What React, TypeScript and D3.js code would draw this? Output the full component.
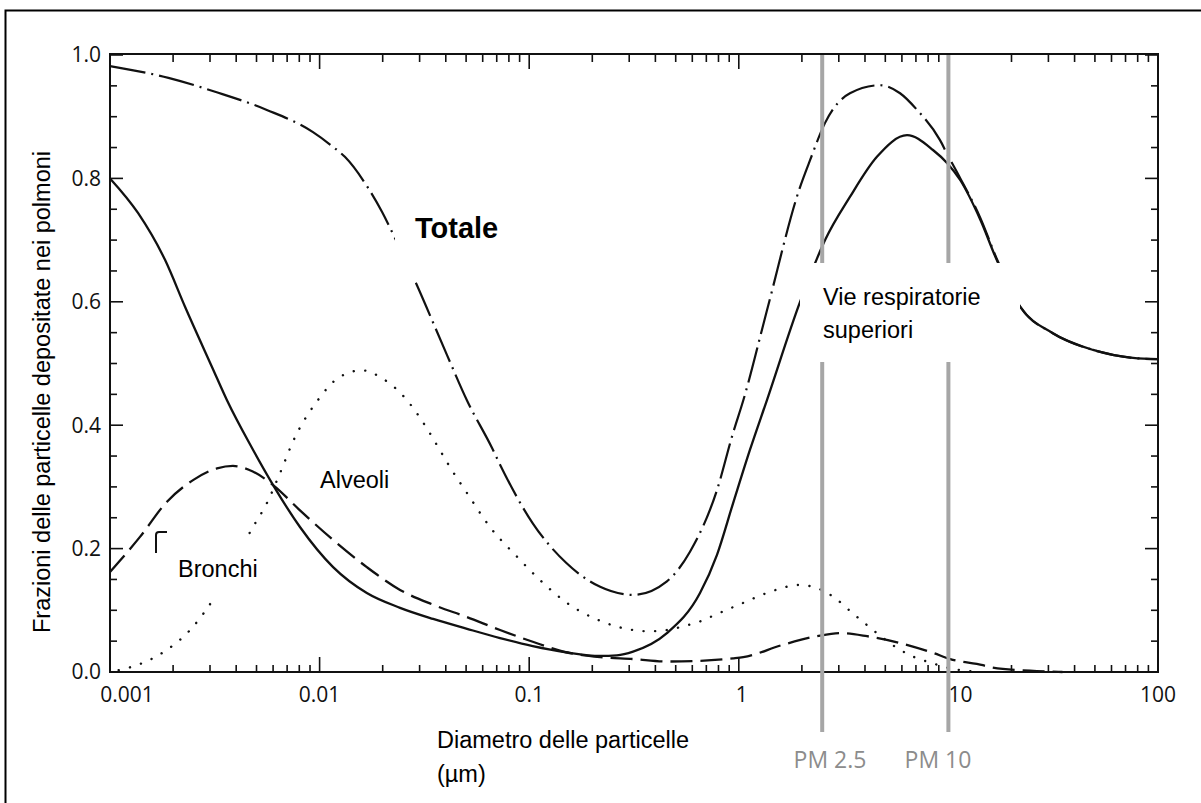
import React from 'react';
import * as d3 from 'd3';

// deposition fractions: [diameter (µm), fraction]
const totale: [number, number][] = [
	[0.001, 0.982], [0.0019, 0.963], [0.0032, 0.94], [0.0056, 0.911], [0.0093, 0.875],
	[0.0116, 0.851], [0.0132, 0.835], [0.017, 0.785], [0.0199, 0.745], [0.0224, 0.71],
	[0.028, 0.64], [0.0405, 0.514], [0.0505, 0.44], [0.0665, 0.363], [0.0726, 0.336],
	[0.104, 0.241], [0.15, 0.177], [0.218, 0.138], [0.313, 0.125], [0.454, 0.147],
	[0.585, 0.195], [0.787, 0.295], [0.938, 0.387], [1.05, 0.44], [1.36, 0.585],
	[1.96, 0.786], [2.19, 0.83], [2.58, 0.89], [3.39, 0.938], [4.72, 0.951],
	[5.88, 0.938], [7.09, 0.911], [9.12, 0.862], [9.85, 0.84], [11.4, 0.8],
	[14.2, 0.736], [17, 0.67], [22, 0.592], [31.5, 0.549], [49, 0.522], [76, 0.509], [100, 0.507],
];

const superiori: [number, number][] = [
	[0.001, 0.8], [0.00136, 0.744], [0.00183, 0.668], [0.00228, 0.592], [0.00307, 0.494],
	[0.00362, 0.44], [0.00476, 0.363], [0.006, 0.303], [0.00806, 0.235], [0.0116, 0.17],
	[0.0168, 0.128], [0.0242, 0.104], [0.0348, 0.086], [0.0505, 0.07], [0.0726, 0.055],
	[0.104, 0.042], [0.15, 0.032], [0.218, 0.026], [0.262, 0.027], [0.313, 0.033],
	[0.454, 0.063], [0.653, 0.128], [0.787, 0.19], [0.938, 0.273], [1.13, 0.36],
	[1.36, 0.44], [1.96, 0.6], [2.36, 0.67], [2.58, 0.7], [3.39, 0.77], [4.56, 0.835],
	[6.35, 0.87], [8.44, 0.846], [9.85, 0.825], [11.4, 0.797], [14.2, 0.733], [17, 0.668],
	[22, 0.592], [31.5, 0.549], [49, 0.522], [76, 0.509], [100, 0.507],
];

const bronchi: [number, number][] = [
	[0.001, 0.162], [0.00139, 0.219], [0.00187, 0.276], [0.00249, 0.311], [0.00324, 0.33],
	[0.00386, 0.334], [0.0048, 0.325], [0.006, 0.303], [0.00806, 0.262], [0.0116, 0.214],
	[0.0168, 0.17], [0.0242, 0.133], [0.0348, 0.109], [0.0505, 0.089], [0.0726, 0.068],
	[0.104, 0.049], [0.15, 0.032], [0.218, 0.024], [0.313, 0.021], [0.454, 0.017],
	[0.653, 0.018], [0.938, 0.022], [1.05, 0.024], [1.62, 0.044], [2.36, 0.058],
	[3.04, 0.063], [4.09, 0.058], [5.88, 0.047], [8.44, 0.031], [10.2, 0.021],
	[14.6, 0.011], [15.8, 0.008], [24.5, 0.002], [35, 0],
];

const alveoli: [number, number][] = [
	[0.0011, 0.003], [0.00144, 0.015], [0.00187, 0.036], [0.00241, 0.068], [0.0031, 0.117],
	[0.00481, 0.235], [0.00561, 0.274], [0.00647, 0.322], [0.0075, 0.375], [0.00983, 0.441],
	[0.0122, 0.476], [0.0159, 0.489], [0.0199, 0.476], [0.0256, 0.444], [0.0329, 0.392],
	[0.0367, 0.365], [0.0419, 0.332], [0.0505, 0.29], [0.065, 0.235], [0.0874, 0.187],
	[0.1126, 0.149], [0.15, 0.113], [0.218, 0.083], [0.313, 0.068], [0.377, 0.066],
	[0.454, 0.068], [0.542, 0.074], [0.653, 0.082], [0.787, 0.094], [0.938, 0.105],
	[1.05, 0.112], [1.36, 0.128], [1.96, 0.141], [2.36, 0.136], [2.82, 0.122], [3.5, 0.095],
	[4.09, 0.076], [4.56, 0.063], [5.88, 0.036], [6.78, 0.025], [8.44, 0.014], [10.2, 0.006],
	[13, 0.001],
];

const xTicks = [0.001, 0.01, 0.1, 1, 10, 100];
const xTickLabels = ['0.001', '0.01', '0.1', '1', '10', '100'];
const yTicks = [0, 0.2, 0.4, 0.6, 0.8, 1.0];
const yTickLabels = ['0.0', '0.2', '0.4', '0.6', '0.8', '1.0'];
const pmValues = [2.5, 10];
const pmLabels = ['PM 2.5', 'PM 10'];

const W = 1201;
const H = 803;
const ARIAL = 'Liberation Sans, Arial, sans-serif';
const TICKFONT = 'Open Sans, sans-serif';

export default function App() {
	const x = d3.scaleLog().domain([0.001, 100]).range([110, 1158]);
	const y = d3.scaleLinear().domain([0, 1]).range([672, 55]);
	const [x0, x1] = x.range();
	const [yb, yt] = [672, 54];

	const line = d3
		.line<[number, number]>()
		.x((d) => x(d[0]))
		.y((d) => y(d[1]))
		.curve(d3.curveMonotoneX);

	// minor log ticks 2..9 in every decade
	const minorX: number[] = [];
	for (let k = -3; k < 2; k++) for (let m = 2; m <= 9; m++) minorX.push(m * Math.pow(10, k));
	const minorY = d3.range(0, 1.0001, 0.05).filter((v) => Math.abs(v * 5 - Math.round(v * 5)) > 1e-6);

	// first x label is pushed inside, "10" sits right of the PM 10 line
	const xLabelDx: Record<string, number> = { '0.001': 17, '1': 3, '10': 12 };

	return (
		<svg width={W} height={H} style={{ position: 'absolute', left: 0, top: 0, background: '#fff' }}>
			<rect x={0} y={0} width={W} height={H} fill="#fff" />
			{/* outer frame */}
			<rect x={5.5} y={10.5} width={1200} height={800} fill="none" stroke="#000" strokeWidth={2} />

			{/* curves */}
			<path d={line(superiori) || ''} fill="none" stroke="#111" strokeWidth={2.3} />
			<path d={line(bronchi) || ''} fill="none" stroke="#111" strokeWidth={2.3} strokeDasharray="22 8" />
			<path
				d={line(alveoli) || ''}
				fill="none"
				stroke="#111"
				strokeWidth={2.4}
				strokeLinecap="round"
				strokeDasharray="0.1 11.5"
			/>
			<path d={line(totale) || ''} fill="none" stroke="#111" strokeWidth={2.2} strokeDasharray="36 6 2 6" />

			{/* axes frame */}
			<rect x={x0} y={yt} width={x1 - x0} height={yb - yt} fill="none" stroke="#111" strokeWidth={2} />
			<g stroke="#111" strokeWidth={1.6}>
				{xTicks.map((t) => (
					<g key={'M' + t}>
						<line x1={x(t)} x2={x(t)} y1={yb} y2={yb - 15} />
						<line x1={x(t)} x2={x(t)} y1={yt} y2={yt + 15} />
					</g>
				))}
				{minorX.map((t) => (
					<g key={'m' + t}>
						<line x1={x(t)} x2={x(t)} y1={yb} y2={yb - 7} />
						<line x1={x(t)} x2={x(t)} y1={yt} y2={yt + 8} />
					</g>
				))}
				{yTicks.map((t) => (
					<g key={'Y' + t}>
						<line x1={x0} x2={x0 + 13} y1={y(t)} y2={y(t)} />
						<line x1={x1} x2={x1 - 13} y1={y(t)} y2={y(t)} />
					</g>
				))}
				{minorY.map((t) => (
					<g key={'y' + t}>
						<line x1={x0} x2={x0 + 7} y1={y(t)} y2={y(t)} />
						<line x1={x1} x2={x1 - 7} y1={y(t)} y2={y(t)} />
					</g>
				))}
			</g>

			{/* tick labels */}
			<g fontFamily={TICKFONT} fontSize={21} fill="#111">
				{xTicks.map((t, i) => (
					<text key={t} x={x(t) + (xLabelDx[xTickLabels[i]] || 0)} y={702} textAnchor="middle">
						{xTickLabels[i]}
					</text>
				))}
				{yTicks.map((t, i) => (
					<text key={t} x={101} y={y(t)} dy="0.35em" textAnchor="end">
						{yTickLabels[i]}
					</text>
				))}
			</g>

			{/* PM reference lines */}
			<g stroke="#a6a6a6" strokeWidth={4}>
				{pmValues.map((v) => (
					<line key={v} x1={x(v)} x2={x(v)} y1={yt + 1} y2={732} />
				))}
			</g>

			{/* white label backgrounds that cut the curves */}
			<g fill="#fff">
				<rect x={395} y={195} width={125} height={87} />
				<rect x={800} y={263} width={220} height={99} />
				<rect x={158} y={535} width={142} height={61} />
			</g>
			{/* leftover mark of the old label */}
			<path d="M156,553 V535 Q156,532 159,532 H167" fill="none" stroke="#111" strokeWidth={2} />

			{/* texts */}
			<g fontFamily={ARIAL} fontSize={23.5} fill="#000">
				<text x={415} y={238} fontWeight="bold" fontSize={29}>
					Totale
				</text>
				<text x={823} y={305}>Vie respiratorie</text>
				<text x={823} y={338}>superiori</text>
				<text x={320} y={488}>Alveoli</text>
				<text x={178} y={577}>Bronchi</text>
				<text x={437} y={748}>Diametro delle particelle</text>
				<text x={437} y={782}>(µm)</text>
				<text transform="translate(50,392) rotate(-90)" textAnchor="middle">
					Frazioni delle particelle depositate nei polmoni
				</text>
			</g>
			<g fontFamily={TICKFONT} fontSize={23} fill="#8c8c8c" textAnchor="middle">
				{pmValues.map((v, i) => (
					<text key={v} x={i === 0 ? 830 : 938} y={768}>
						{pmLabels[i]}
					</text>
				))}
			</g>
		</svg>
	);
}
